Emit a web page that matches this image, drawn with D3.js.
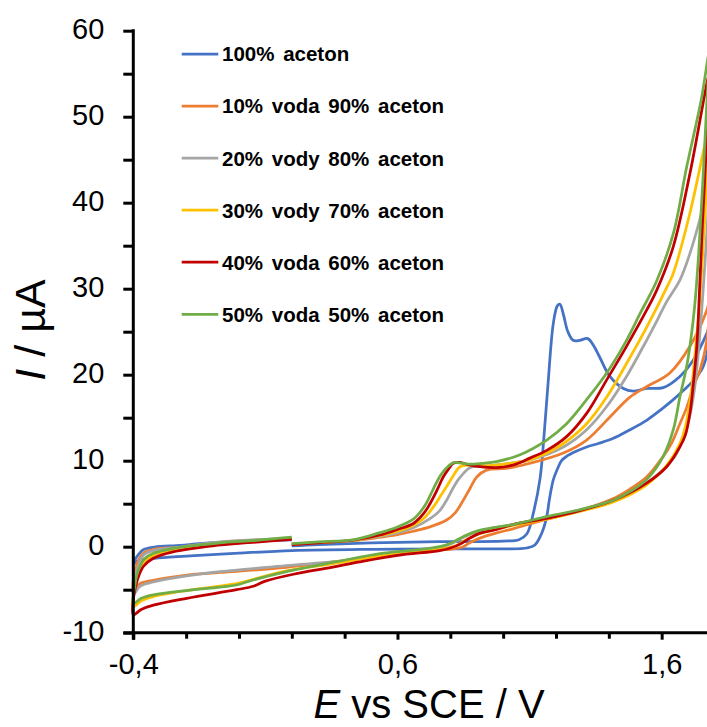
<!DOCTYPE html>
<html><head><meta charset="utf-8">
<script src="https://cdn.jsdelivr.net/npm/d3@7"></script>
<style>body{margin:0;background:#fff}svg{display:block}</style>
</head><body><svg id="c" width="707" height="727"></svg>
<script>
const seriesNames = ["100% aceton","10% voda 90% aceton","20% vody 80% aceton","30% vody 70% aceton","40% voda 60% aceton","50% voda 50% aceton"];
const seriesColors = ["#4472C4","#ED7D31","#A5A5A5","#FFC000","#C00000","#70AD47"];
const xMajorTicks = [-0.4, 0.6, 1.6];
const xMinorTicks = [-0.2, 0, 0.2, 0.4, 0.8, 1.0, 1.2, 1.4];
const yMajorTicks = [-10, 0, 10, 20, 30, 40, 50, 60];
const yMinorTicks = [-5, 5, 15, 25, 35, 45, 55];

// [E (V), I (µA)] in scan order: 0.2 -> 1.78 -> -0.4 -> 0.2
const aceton100 = [[0.2,0.1],[0.3,0.25],[0.5,0.45],[0.76,0.58],[1.0,0.65],[1.06,0.8],[1.09,1.5],[1.115,4],[1.14,8],[1.155,13],[1.17,19],[1.19,26],[1.205,28],[1.215,28.2],[1.228,27],[1.245,25],[1.265,24],[1.29,24],[1.32,24.2],[1.34,23.5],[1.366,22],[1.404,19.8],[1.455,18.4],[1.492,18.1],[1.543,18.4],[1.606,18.5],[1.669,19.8],[1.72,21.7],[1.771,24.8],[1.78,25.5],
  [1.772,22.5],[1.755,20.8],[1.72,19.3],[1.68,18.1],[1.644,17.1],[1.6,16],[1.543,14.7],[1.48,13.6],[1.417,12.6],[1.36,12],[1.316,11.6],[1.27,11.0],[1.24,10.5],[1.221,10.0],[1.205,9.0],[1.19,7.8],[1.175,5.5],[1.165,3.5],[1.145,1.5],[1.12,0.2],[1.09,-0.15],[1.0,-0.25],[0.8,-0.25],[0.5,-0.3],[0.2,-0.45],[0.0,-0.75],[-0.2,-1.1],[-0.32,-1.35],[-0.38,-1.6],[-0.4,-2.0],
  [-0.395,-1.6],[-0.38,-0.9],[-0.362,-0.35],[-0.32,-0.05],[-0.223,0.15],[-0.15,0.35],[-0.072,0.5],[0.05,0.65],[0.2,0.78]];
const voda10 = [[0.2,0.25],[0.3,0.45],[0.43,0.7],[0.534,1.1],[0.6,1.4],[0.66,1.8],[0.723,2.3],[0.786,3.1],[0.82,4.0],[0.849,5.4],[0.875,6.8],[0.9,8.1],[0.937,8.9],[1.013,9.1],[1.101,9.7],[1.228,10.9],[1.316,12.4],[1.417,15.5],[1.48,17.4],[1.543,18.6],[1.631,20.2],[1.707,23.3],[1.771,27.5],[1.78,28.5],
  [1.771,24],[1.745,20.5],[1.72,18.6],[1.695,16.2],[1.669,14.3],[1.64,12.2],[1.606,10.5],[1.543,8.1],[1.48,6.7],[1.417,5.6],[1.29,4.2],[1.165,3.2],[1.04,2.1],[0.975,1.6],[0.912,1.0],[0.87,0.4],[0.849,0],[0.8,-0.3],[0.76,-0.35],[0.6,-0.8],[0.433,-1.47],[0.18,-2.4],[-0.072,-3.0],[-0.198,-3.3],[-0.324,-3.9],[-0.375,-4.3],[-0.4,-5.0],
  [-0.397,-3.3],[-0.385,-1.9],[-0.362,-0.77],[-0.324,-0.3],[-0.223,-0.07],[-0.072,0.5],[0.05,0.75],[0.2,0.95]];
const vody20 = [[0.2,0.3],[0.3,0.5],[0.43,0.75],[0.534,1.2],[0.6,1.6],[0.66,2.2],[0.72,3.2],[0.76,4.2],[0.786,5.4],[0.81,6.8],[0.83,7.8],[0.849,8.5],[0.87,9.1],[0.887,9.3],[0.95,9.4],[1.0,9.6],[1.101,10.1],[1.228,11.6],[1.316,13.6],[1.392,16.3],[1.467,19.8],[1.543,24.0],[1.581,26.2],[1.619,28.5],[1.669,31.0],[1.707,34.1],[1.77,41.1],[1.78,42.5],
  [1.77,36],[1.755,29],[1.74,23],[1.725,18.5],[1.705,15],[1.68,12.5],[1.65,10.5],[1.6,8.8],[1.543,7.4],[1.417,5.4],[1.29,4.3],[1.165,3.4],[1.04,2.6],[0.91,1.8],[0.85,1.1],[0.8,0.3],[0.76,-0.2],[0.6,-0.6],[0.43,-1.5],[0.18,-2.2],[-0.072,-2.9],[-0.198,-3.4],[-0.324,-4.1],[-0.375,-4.6],[-0.4,-5.6],
  [-0.397,-4.0],[-0.385,-2.6],[-0.362,-1.0],[-0.324,-0.45],[-0.223,-0.05],[-0.072,0.55],[0.05,0.8],[0.2,0.95]];
const vody30 = [[0.2,0.3],[0.3,0.5],[0.43,0.75],[0.534,1.3],[0.6,1.8],[0.66,2.5],[0.7,3.3],[0.74,4.8],[0.765,6.0],[0.786,7.0],[0.81,8.2],[0.837,9.3],[0.874,9.5],[0.93,9.4],[0.975,9.5],[1.101,10.1],[1.165,10.9],[1.228,12.0],[1.316,14.3],[1.392,17.4],[1.467,21.3],[1.543,25.5],[1.625,30.5],[1.644,31.8],[1.707,38.8],[1.77,47.7],[1.78,49],
  [1.77,42],[1.755,34],[1.74,27],[1.725,22],[1.71,17.5],[1.69,14],[1.669,12],[1.62,9.5],[1.543,7.2],[1.417,5.2],[1.29,4.1],[1.165,3.2],[1.04,2.5],[0.91,1.5],[0.86,0.8],[0.82,0.1],[0.76,-0.3],[0.6,-0.7],[0.45,-1.5],[0.35,-2.0],[0.18,-2.8],[0.054,-3.8],[-0.009,-4.3],[-0.1,-4.7],[-0.198,-5.1],[-0.324,-5.8],[-0.37,-6.3],[-0.4,-7.0],
  [-0.397,-5.2],[-0.385,-3.6],[-0.362,-1.9],[-0.324,-1.0],[-0.25,-0.35],[-0.1,0.2],[0.05,0.55],[0.2,0.9]];
const voda40 = [[0.2,0.25],[0.3,0.45],[0.43,0.75],[0.534,1.36],[0.6,2.0],[0.66,2.7],[0.7,3.9],[0.723,5.0],[0.75,6.6],[0.773,8.1],[0.795,9.1],[0.811,9.7],[0.837,9.8],[0.87,9.5],[0.912,9.3],[0.975,9.2],[1.038,9.5],[1.101,10.3],[1.165,11.2],[1.24,12.8],[1.316,15.5],[1.392,19.4],[1.467,23.3],[1.543,27.5],[1.581,29.8],[1.644,34.9],[1.707,43.4],[1.77,53.7],[1.78,55],
  [1.77,47],[1.755,38],[1.745,31],[1.733,23.3],[1.72,19],[1.707,15.5],[1.69,13],[1.669,11.6],[1.619,9.3],[1.543,7.4],[1.417,5.4],[1.29,4.2],[1.165,3.3],[1.04,2.6],[0.975,2.0],[0.91,1.55],[0.874,1.0],[0.837,0.3],[0.8,-0.15],[0.76,-0.45],[0.6,-1.0],[0.45,-1.8],[0.35,-2.4],[0.206,-3.2],[0.1,-4.0],[0.054,-4.6],[-0.009,-5.0],[-0.198,-6.0],[-0.324,-6.8],[-0.37,-7.3],[-0.4,-7.9],
  [-0.397,-5.5],[-0.385,-3.9],[-0.362,-2.3],[-0.324,-1.35],[-0.25,-0.6],[-0.1,0.1],[0.05,0.5],[0.2,0.85]];
const voda50 = [[0.2,0.35],[0.3,0.55],[0.43,0.8],[0.53,1.6],[0.6,2.3],[0.66,3.2],[0.7,4.6],[0.723,5.9],[0.745,7.3],[0.765,8.4],[0.79,9.3],[0.815,9.8],[0.835,9.75],[0.87,9.6],[0.92,9.7],[0.975,9.9],[1.064,10.7],[1.165,12.4],[1.24,14.3],[1.316,17.1],[1.392,20.2],[1.467,24],[1.518,27.1],[1.581,30.9],[1.644,36.4],[1.695,44.2],[1.75,52],[1.78,57.5],
  [1.77,51],[1.755,42],[1.74,34],[1.725,28],[1.71,24],[1.695,21],[1.669,17.4],[1.644,13.6],[1.606,10.5],[1.543,7.8],[1.48,6.4],[1.417,5.4],[1.29,4.3],[1.165,3.5],[1.04,2.6],[0.91,1.9],[0.85,1.2],[0.8,0.4],[0.76,0],[0.66,-0.4],[0.534,-0.8],[0.37,-1.74],[0.18,-2.9],[0.054,-3.87],[-0.009,-4.45],[-0.072,-4.7],[-0.198,-5.1],[-0.324,-5.6],[-0.37,-6.0],[-0.4,-6.6],
  [-0.394,-4.5],[-0.385,-3.1],[-0.362,-1.55],[-0.324,-0.77],[-0.25,-0.2],[-0.15,0.2],[-0.072,0.45],[0.05,0.7],[0.2,1.1]];
const seriesData = [aceton100, voda10, vody20, vody30, voda40, voda50];

const svg = d3.select("#c");
const x = d3.scaleLinear().domain([-0.4, 1.8]).range([133.3, 714.5]);
const y = d3.scaleLinear().domain([-10, 60]).range([632.7, 30.7]);
const fmt = d => (d < 0 ? "-" : "") + (Number.isInteger(d) ? String(Math.abs(d)) : Math.abs(d).toFixed(1).replace(".", ","));

const line = d3.line().x(d => x(d[0])).y(d => y(d[1])).curve(d3.curveCatmullRom.alpha(0.5));
const plot = svg.append("g");
seriesData.forEach((s, i) => {
  plot.append("path").attr("d", line(s)).attr("fill", "none")
    .attr("stroke", seriesColors[i]).attr("stroke-width", 2.75).attr("stroke-linejoin", "round");
});

// axes
const axisColor = "#000";
const yMaj = svg.append("g").attr("transform", `translate(${x(-0.4)},0)`)
  .call(d3.axisLeft(y).tickValues(yMajorTicks).tickSize(10).tickPadding(19).tickFormat(fmt));
const yMin = svg.append("g").attr("transform", `translate(${x(-0.4)},0)`)
  .call(d3.axisLeft(y).tickValues(yMinorTicks).tickSize(10).tickFormat(""));
const xMaj = svg.append("g").attr("transform", `translate(0,${y(-10)})`)
  .call(d3.axisBottom(x).tickValues(xMajorTicks).tickSize(7).tickPadding(14).tickFormat(fmt));
const xMin = svg.append("g").attr("transform", `translate(0,${y(-10)})`)
  .call(d3.axisBottom(x).tickValues(xMinorTicks).tickSize(6).tickFormat(""));
[yMaj, yMin, xMaj, xMin].forEach(g => {
  g.select(".domain").remove();
  g.selectAll(".tick line").attr("stroke", axisColor).attr("stroke-width", 3);
  g.selectAll("text").attr("font-family", "Liberation Sans, Arial, sans-serif").attr("font-size", 29).attr("fill", "#000");
});
yMaj.selectAll("text").attr("dy", "0.27em");
// axis lines
svg.append("line").attr("x1", x(-0.4)).attr("x2", x(-0.4)).attr("y1", y(60) - 1.5).attr("y2", y(-10) + 7)
  .attr("stroke", axisColor).attr("stroke-width", 3);
svg.append("line").attr("x1", x(-0.4) - 10).attr("x2", x(1.8)).attr("y1", y(-10)).attr("y2", y(-10))
  .attr("stroke", axisColor).attr("stroke-width", 3);

// axis titles
const xt = svg.append("text").attr("x", 429).attr("y", 718).attr("text-anchor", "middle")
  .attr("font-family", "Liberation Sans, Arial, sans-serif").attr("font-size", 40).attr("fill", "#000");
xt.append("tspan").attr("font-style", "italic").text("E");
xt.append("tspan").text(" vs SCE / V");
const yt = svg.append("text").attr("transform", "translate(45,330) rotate(-90)").attr("text-anchor", "middle")
  .attr("font-family", "Liberation Sans, Arial, sans-serif").attr("font-size", 43).attr("fill", "#000");
yt.append("tspan").attr("font-style", "italic").text("I");
yt.append("tspan").text(" / µA");

// legend
const legendY = d3.scalePoint().domain(seriesNames).range([54, 314.3]);
const lg = svg.append("g");
seriesNames.forEach((n, i) => {
  const ly = legendY(n);
  lg.append("line").attr("x1", 181.7).attr("x2", 218.3).attr("y1", ly).attr("y2", ly)
    .attr("stroke", seriesColors[i]).attr("stroke-width", 2.75);
  lg.append("text").attr("x", 222).attr("y", ly).attr("dy", "0.36em")
    .attr("font-family", "Liberation Sans, Arial, sans-serif").attr("font-weight", "bold")
    .attr("font-size", 20.5).attr("word-spacing", 3).attr("fill", "#000").text(n);
});
</script></body></html>
